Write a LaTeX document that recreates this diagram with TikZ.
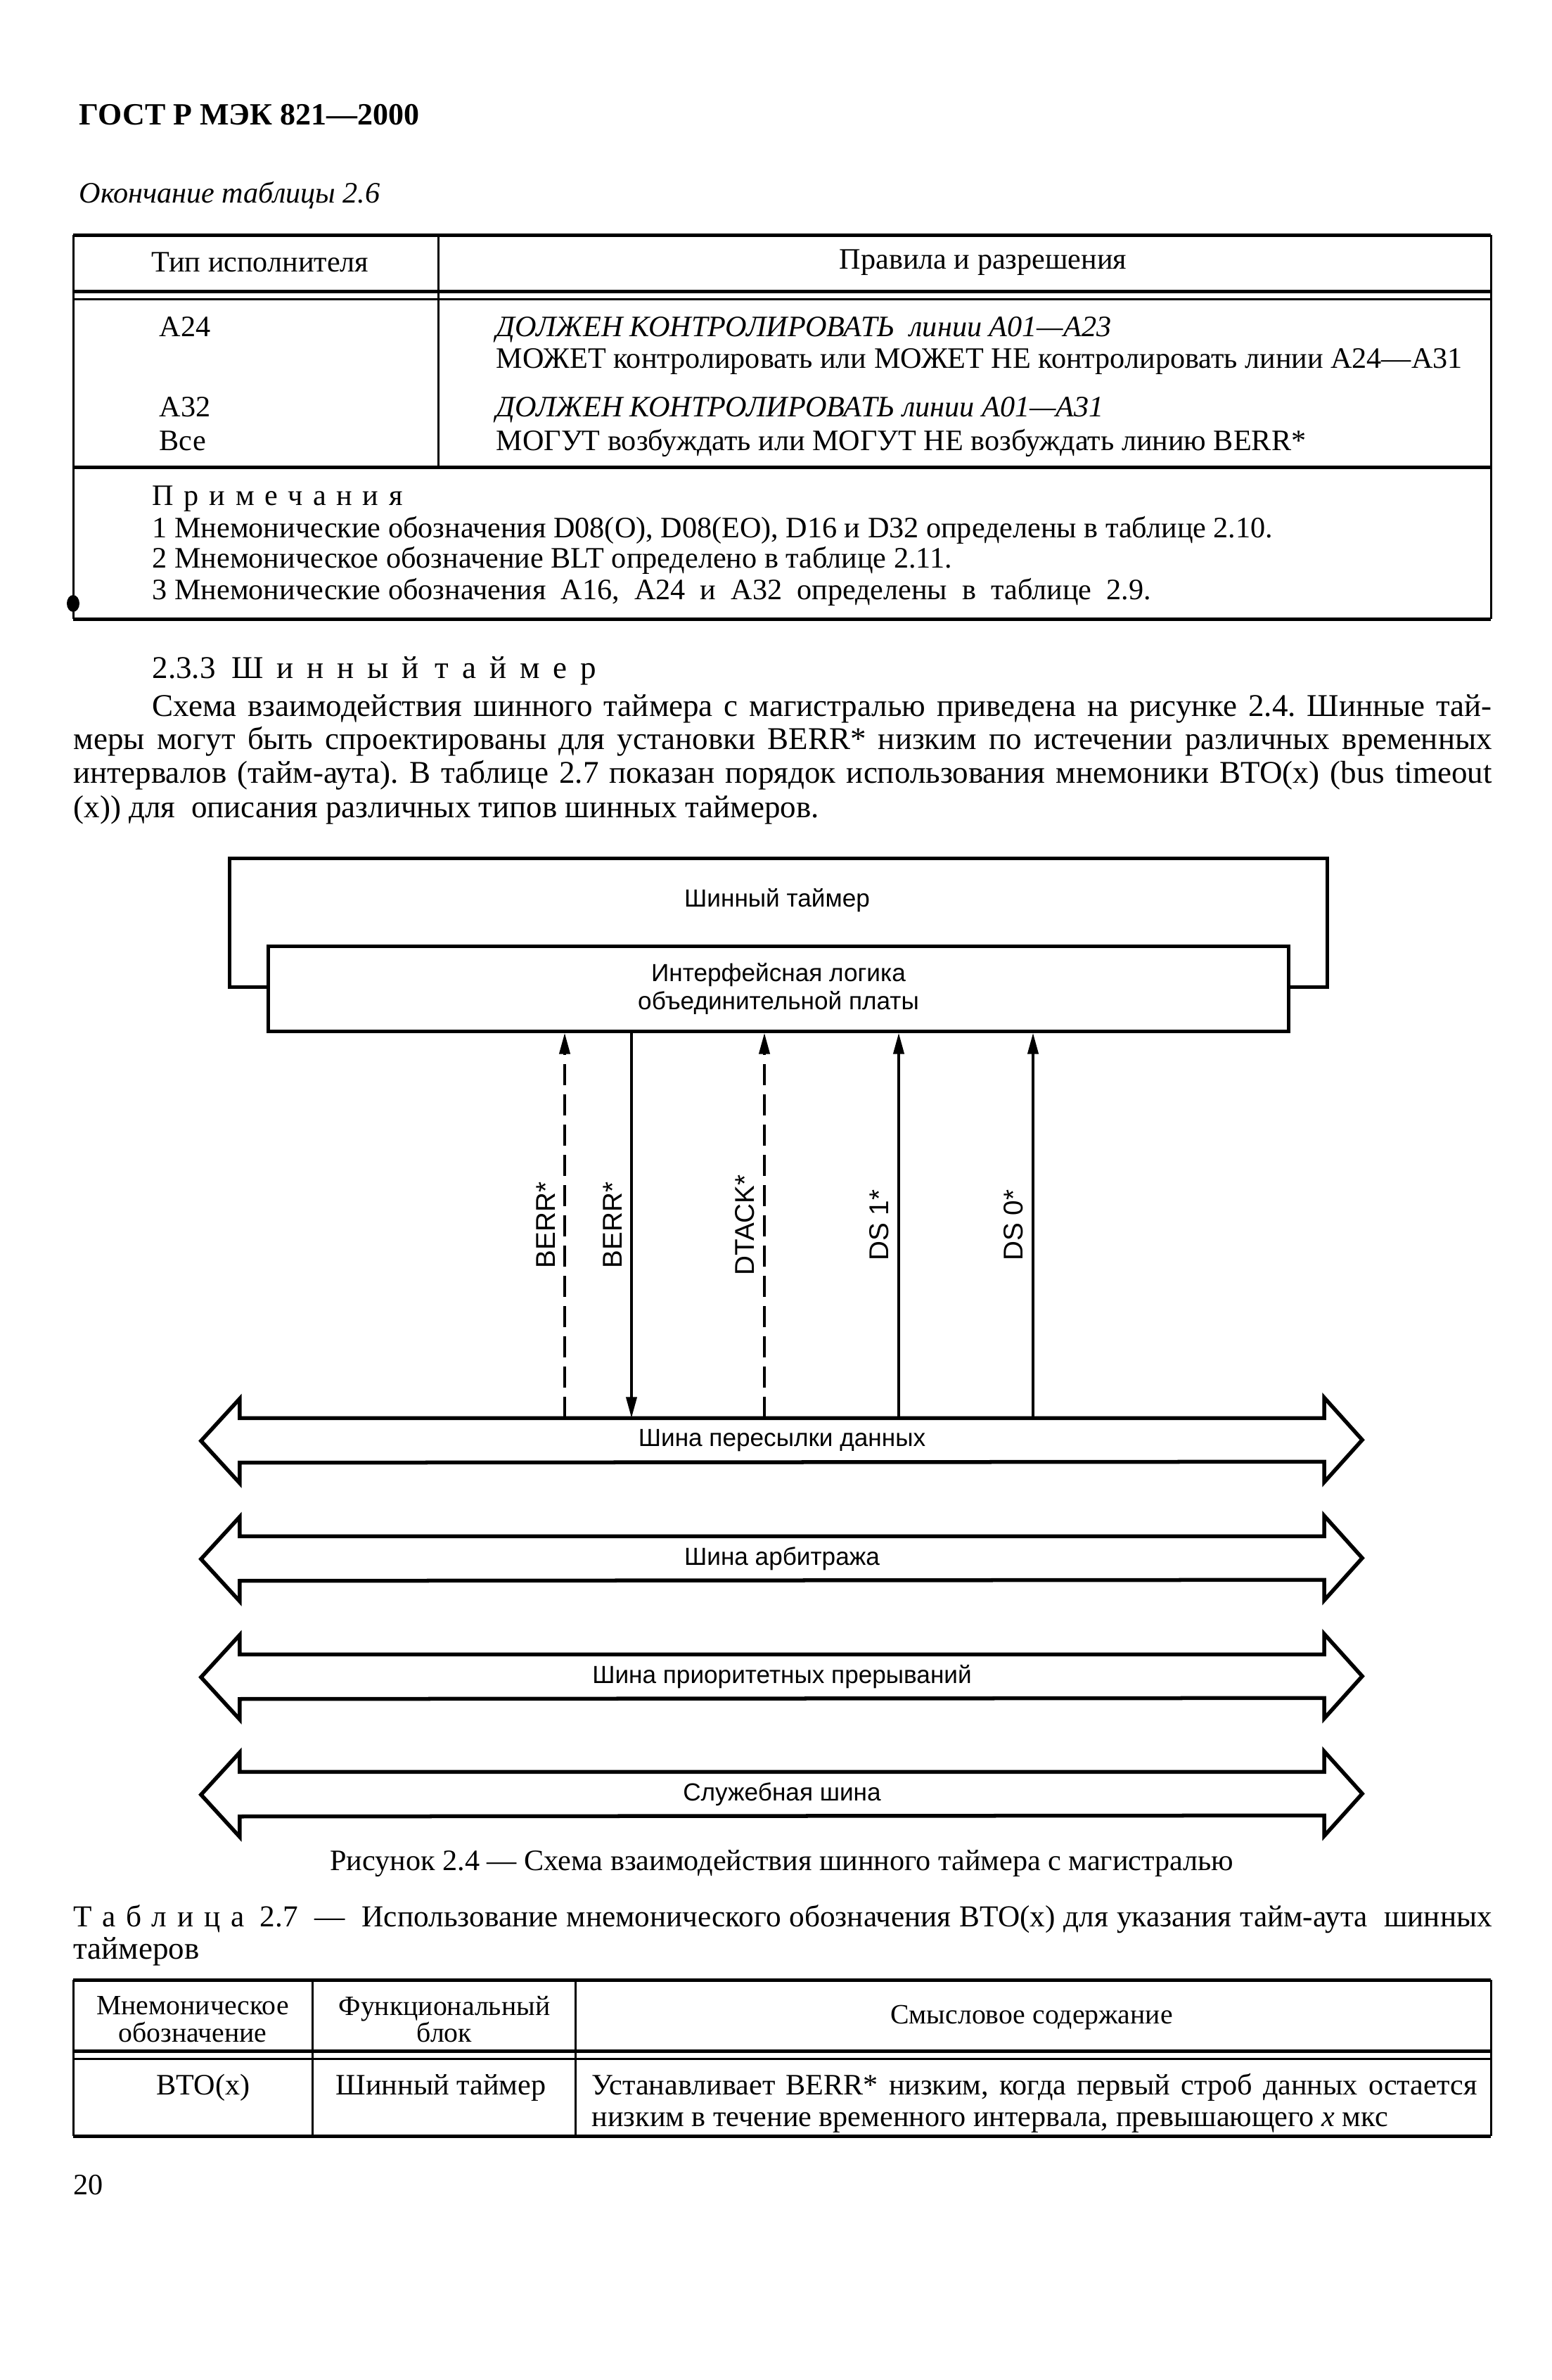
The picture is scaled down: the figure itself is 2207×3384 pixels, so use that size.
\documentclass[tikz,border=0pt]{standalone}
\usepackage{fontspec}
\setmainfont{Liberation Serif}
\setsansfont{Liberation Sans}
\usetikzlibrary{arrows.meta, positioning, calc}
\frenchspacing

\newcommand{\bodysize}{\fontsize{12.8pt}{13.4pt}\selectfont}
\newcommand{\tabsize}{\fontsize{12pt}{12.8pt}\selectfont}
\newcommand{\headsize}{\fontsize{11.3pt}{11pt}\selectfont}
\newcommand{\figsize}{\sffamily\fontsize{10pt}{11.6pt}\selectfont}
\newcommand{\spaced}[1]{{\addfontfeature{LetterSpace=35}#1}}
\newcommand{\wspaced}[1]{{\addfontfeature{LetterSpace=42}#1}}
\newcommand{\justline}[2]{\makebox[#1][s]{#2}}

\begin{document}
\begin{tikzpicture}[x=0.01cm, y=-0.01cm,
  txt/.style={inner sep=0pt, anchor=base west, font=\bodysize},
  tabtxt/.style={inner sep=0pt, anchor=base west, font=\tabsize},
  headtxt/.style={inner sep=0pt, align=center, font=\headsize},
  rulethick/.style={line width=0.05cm},
  rulethin/.style={line width=0.03cm},
  box/.style={draw, line width=0.05cm, inner sep=0pt, font=\figsize},
  sig/.style={line width=0.04cm, -{Triangle[length=0.3cm, width=0.15cm]}},
  sigdash/.style={sig, dash pattern=on 0.3cm off 0.13cm},
  siglbl/.style={rotate=90, anchor=south, inner sep=0pt, font=\sffamily\fontsize{11pt}{12pt}\selectfont},
  busbody/.style={minimum width=15.4cm, minimum height=0.62cm, inner sep=0pt, font=\figsize},
  busline/.style={line width=0.055cm, line join=miter}
]
\useasboundingbox (0,0) rectangle (2207,3384);
\fill[white] (0,0) rectangle (2207,3384);

%--- Page head ---
\node[txt, font=\fontsize{12.5pt}{13pt}\selectfont\bfseries] (gost) at (112,177) {ГОСТ Р МЭК 821—2000};
\node[tabtxt, font=\tabsize\itshape] (tabend) at (112,288) {Окончание таблицы 2.6};

%--- Table 2.6 ---
\draw[rulethick] (104,334) -- (2120,334);
\draw[rulethin] (104,334) -- (104,880);
\draw[rulethin] (2120,334) -- (2120,880);
\draw[rulethick] (104,414) -- (2120,414);
\draw[rulethin] (104,425) -- (2120,425);
\draw[rulethin] (623,334) -- (623,664);
\draw[rulethick] (104,664) -- (2120,664);
\draw[rulethick] (104,880) -- (2120,880);
\fill (104,858) ellipse (9 and 12);

\node[headtxt, font=\tabsize] (hType) at (370,373) {Тип исполнителя};
\node[headtxt, font=\tabsize] (hRule) at (1398,373) {Правила и разрешения};

\node[tabtxt] (a24) at (226,478) {А24};
\node[tabtxt] (a32) at (226,592) {А32};
\node[tabtxt] (all) at (226,640) {Все};
\node[tabtxt, font=\tabsize\itshape] (r1) at (705,478) {ДОЛЖЕН КОНТРОЛИРОВАТЬ \ линии А01—А23};
\node[tabtxt] (r2) at (705,523) {МОЖЕТ контролировать или МОЖЕТ НЕ контролировать линии А24—А31};
\node[tabtxt, font=\tabsize\itshape] (r3) at (705,592) {ДОЛЖЕН КОНТРОЛИРОВАТЬ линии А01—А31};
\node[tabtxt] (r4) at (705,640) {МОГУТ возбуждать или МОГУТ НЕ возбуждать линию BERR*};

\node[tabtxt] (notes) at (216,718) {\spaced{Примечания}};
\node[tabtxt] (n1) at (216,764) {1 Мнемонические обозначения D08(O), D08(EO), D16 и D32 определены в таблице 2.10.};
\node[tabtxt] (n2) at (216,807) {2 Мнемоническое обозначение BLT определено в таблице 2.11.};
\node[tabtxt] (n3) at (216,852) {3 Мнемонические обозначения \ A16, \ A24 \ и \ A32 \ определены \ в \ таблице \ 2.9.};

%--- Section text ---
\node[txt] (sec) at (216,964) {2.3.3 \ \wspaced{Шинный} \ \wspaced{таймер}};
\node[txt] (p1) at (216,1018) {\justline{19.04cm}{Схема взаимодействия шинного таймера с магистралью приведена на рисунке 2.4. Шинные тай-}};
\node[txt] (p2) at (104,1065) {\justline{20.16cm}{меры могут быть спроектированы для установки BERR* низким по истечении различных временных}};
\node[txt] (p3) at (104,1113) {\justline{20.16cm}{интервалов (тайм-аута). В таблице 2.7 показан порядок использования мнемоники BTO(x) (bus timeout}};
\node[txt] (p4) at (104,1162) {(x)) для \ описания различных типов шинных таймеров.};

%--- Figure 2.4 ---
\node[box, minimum width=15.6cm, minimum height=1.83cm] (timer) at (1107,1312) {};
\node[inner sep=0pt, font=\figsize] (timerlbl) at (1105,1280) {Шинный таймер};
\node[box, fill=white, minimum width=14.51cm, minimum height=1.2cm, align=center] (logic) at (1107,1406)
  {Интерфейсная логика\\объединительной платы};

\foreach \cy/\nm/\lbl in {2048/busdata/Шина пересылки данных, 2216/busarb/Шина арбитража,
                         2384/busint/Шина приоритетных прерываний, 2551/busutil/Служебная шина}{
  \node[busbody] (\nm) at (1112,\cy) {\lbl};
  \draw[busline] (\nm.north west) -- (\nm.north east) -- ++(0,-29) -- ++(54,60) -- ++(-54,60)
    -- ++(0,-29) -- (\nm.south west) -- ++(0,29) -- ++(-55,-60) -- ++(55,-60) -- cycle;
}

\coordinate (sA) at (803,0);
\coordinate (sB) at (898,0);
\coordinate (sC) at (1087,0);
\coordinate (sD) at (1278,0);
\coordinate (sE) at (1469,0);

\draw[sigdash] (busdata.north -| sA) -- (logic.south -| sA);
\draw[sig]     (logic.south -| sB) -- (busdata.north -| sB);
\draw[sigdash] (busdata.north -| sC) -- (logic.south -| sC);
\draw[sig]     (busdata.north -| sD) -- (logic.south -| sD);
\draw[sig]     (busdata.north -| sE) -- (logic.south -| sE);

\node[siglbl] (lA) at (790,1742) {BERR*};
\node[siglbl] (lB) at (885,1742) {BERR*};
\node[siglbl] (lC) at (1074,1742) {DTACK*};
\node[siglbl] (lD) at (1265,1742) {DS 1*};
\node[siglbl] (lE) at (1456,1742) {DS 0*};

\node[inner sep=0pt, anchor=base, font=\tabsize] (cap) at (1112,2659)
  {Рисунок 2.4 — Схема взаимодействия шинного таймера с магистралью};

%--- Table 2.7 ---
\node[txt, font=\fontsize{12.3pt}{13pt}\selectfont] (t27a) at (104,2739) {\justline{20.16cm}{\spaced{Таблица}\enspace 2.7 \ — \ Использование мнемонического обозначения BTO(x) для указания тайм-аута \ шинных}};
\node[txt] (t27b) at (104,2785) {таймеров};

\draw[rulethick] (104,2815) -- (2120,2815);
\draw[rulethin] (104,2815) -- (104,3037);
\draw[rulethin] (2120,2815) -- (2120,3037);
\draw[rulethin] (444,2815) -- (444,3037);
\draw[rulethin] (818,2815) -- (818,3037);
\draw[rulethick] (104,2916) -- (2120,2916);
\draw[rulethin] (104,2927) -- (2120,2927);
\draw[rulethick] (104,3037) -- (2120,3037);

\node[headtxt] (hMn) at (274,2871) {Мнемоническое\\обозначение};
\node[headtxt] (hFb) at (632,2871) {Функциональный\\блок};
\node[headtxt] (hSm) at (1467,2869) {Смысловое содержание};

\node[tabtxt, anchor=base] (bto) at (289,2978) {BTO(x)};
\node[tabtxt, anchor=base] (btimer) at (627,2978) {Шинный таймер};
\node[tabtxt] (d1) at (841,2978) {\justline{12.58cm}{Устанавливает BERR* низким, когда первый строб данных остается}};
\node[tabtxt] (d2) at (841,3023) {низким в течение временного интервала, превышающего \textit{x} мкс};

\node[tabtxt] (pg) at (104,3120) {20};
\end{tikzpicture}
\end{document}
